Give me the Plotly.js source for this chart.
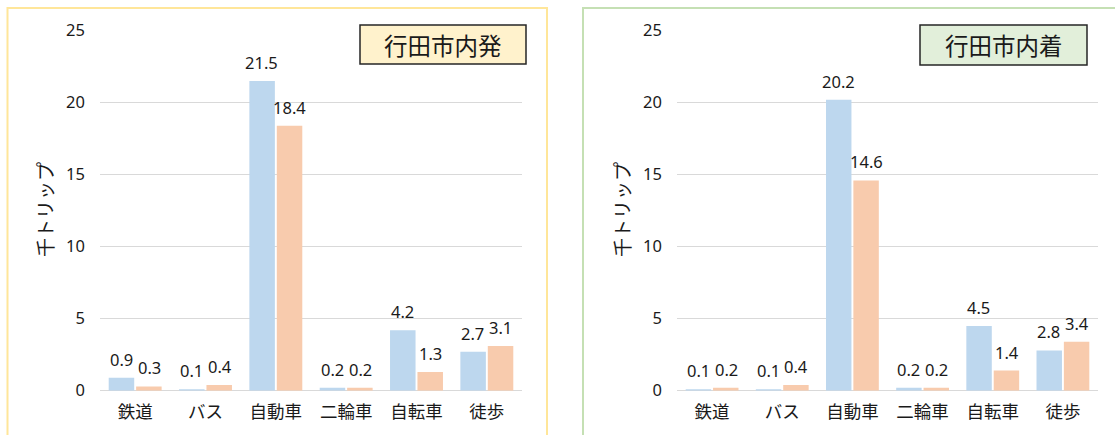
<!DOCTYPE html>
<html>
<head>
<meta charset="utf-8">
<script src="https://cdn.plot.ly/plotly-3.0.1.min.js"></script>
<style>html,body{margin:0;padding:0;background:#fff;}#chart{width:1115px;height:435px;}</style>
</head>
<body>
<div id="chart"></div>
<script>
const categories = ['鉄道', 'バス', '自動車', '二輪車', '自転車', '徒歩'];
const hatsuSeries1 = [0.9, 0.1, 21.5, 0.2, 4.2, 2.7];
const hatsuSeries2 = [0.3, 0.4, 18.4, 0.2, 1.3, 3.1];
const chakuSeries1 = [0.1, 0.1, 20.2, 0.2, 4.5, 2.8];
const chakuSeries2 = [0.2, 0.4, 14.6, 0.2, 1.4, 3.4];
const panelTitles = ['行田市内発', '行田市内着'];
const yTitle = '千トリップ';
const yTicks = [0, 5, 10, 15, 20, 25];

const W = 1115, H = 435;
const px = x => x / W;
const py = y => (H - y) / H;

const FONT = '"Noto Sans", "Noto Sans CJK JP", sans-serif';
const CJK = '"Noto Sans CJK JP", "Noto Sans", sans-serif';
const TXT = '#1a1a1a';
const BLUE = '#BDD7EE';
const ORANGE = '#F8CBAD';

function bar(x, y, color, xa, ya) {
  return {type: 'bar', x: x, y: y, xaxis: xa, yaxis: ya,
    marker: {color: color, line: {width: 0}}, hoverinfo: 'skip', showlegend: false};
}

const data = [
  bar(categories, hatsuSeries1, BLUE, 'x', 'y'),
  bar(categories, hatsuSeries2, ORANGE, 'x', 'y'),
  bar(categories, chakuSeries1, BLUE, 'x2', 'y2'),
  bar(categories, chakuSeries2, ORANGE, 'x2', 'y2')
];

const annotations = [];
function labels(vals, xref, yref, shift) {
  vals.forEach((v, i) => {
    annotations.push({x: categories[i], y: v, xref: xref, yref: yref, text: v.toFixed(1),
      showarrow: false, xanchor: 'center', yanchor: 'bottom', xshift: shift, yshift: 5,
      font: {family: FONT, size: 16.5, color: TXT}});
  });
}
labels(hatsuSeries1, 'x', 'y', -14);
labels(hatsuSeries2, 'x', 'y', 14);
labels(chakuSeries1, 'x2', 'y2', -14);
labels(chakuSeries2, 'x2', 'y2', 14);

function note(x, y, text, size, angle) {
  annotations.push({x: px(x), y: py(y), xref: 'paper', yref: 'paper', text: text, textangle: angle || 0,
    xanchor: 'center', yanchor: 'middle', showarrow: false, font: {family: CJK, size: size, color: TXT}});
}
note(45, 210, yTitle, 19, -90);
note(622, 210, yTitle, 19, -90);
note(443, 44.5, panelTitles[0], 23.5);
note(1003.5, 45, panelTitles[1], 23.5);

const shapes = [
  {type: 'rect', xref: 'paper', yref: 'paper', x0: px(7.5), x1: px(547), y0: py(460), y1: py(8),
    line: {color: '#FFE699', width: 2}, fillcolor: 'rgba(0,0,0,0)', layer: 'below'},
  {type: 'rect', xref: 'paper', yref: 'paper', x0: px(583), x1: px(1140), y0: py(460), y1: py(8),
    line: {color: '#C5E0B4', width: 2}, fillcolor: 'rgba(0,0,0,0)', layer: 'below'},
  {type: 'rect', xref: 'paper', yref: 'paper', x0: px(360), x1: px(526), y0: py(64), y1: py(25),
    line: {color: '#262626', width: 1.5}, fillcolor: '#FFF2CC', layer: 'above'},
  {type: 'rect', xref: 'paper', yref: 'paper', x0: px(920), x1: px(1087), y0: py(65), y1: py(25),
    line: {color: '#262626', width: 1.5}, fillcolor: '#E2EFDA', layer: 'above'}
];

function xaxis(domain) {
  return {domain: domain, type: 'category', showgrid: false, zeroline: false, showline: false,
    ticks: '', ticklabelstandoff: 9, tickfont: {family: CJK, size: 17.5, color: TXT}, fixedrange: true};
}
function yaxis(anchor) {
  return {anchor: anchor, domain: [py(390.7), py(30.7)], range: [0, 25], tickvals: yTicks,
    showgrid: true, gridcolor: '#D9D9D9', gridwidth: 1.5, zeroline: true, zerolinecolor: '#D9D9D9',
    zerolinewidth: 1.5, showline: false, ticks: '', ticklabelstandoff: 14,
    tickfont: {family: FONT, size: 16.5, color: TXT}, fixedrange: true};
}

const layout = {
  width: W, height: H,
  margin: {l: 0, r: 0, t: 0, b: 0},
  paper_bgcolor: '#ffffff', plot_bgcolor: 'rgba(0,0,0,0)',
  showlegend: false,
  barmode: 'group', bargap: 0.22, bargroupgap: 0.07,
  xaxis: xaxis([px(100), px(522)]),
  yaxis: yaxis('x'),
  xaxis2: xaxis([px(677), px(1098)]),
  yaxis2: yaxis('x2'),
  annotations: annotations,
  shapes: shapes,
  font: {family: FONT, color: TXT}
};

Plotly.newPlot('chart', data, layout, {staticPlot: true, displayModeBar: false});
</script>
</body>
</html>
